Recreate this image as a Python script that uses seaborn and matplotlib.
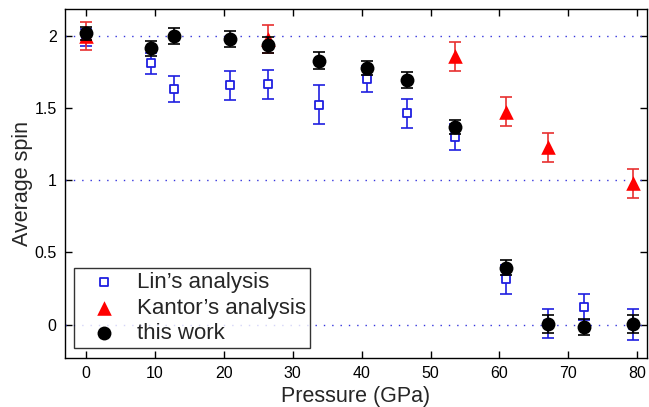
import matplotlib
matplotlib.use("Agg")
import matplotlib.pyplot as plt
import seaborn as sns
import pandas as pd
import numpy as np

# Lin's analysis
lin_p = [0.0, 9.4, 12.8, 20.9, 26.5, 33.8, 40.8, 46.6, 53.6, 60.9, 67.1, 72.3, 79.3]
lin_s = [1.99, 1.81, 1.63, 1.66, 1.665, 1.525, 1.705, 1.465, 1.30, 0.315, 0.005, 0.12, 0.0]
lin_e = [0.06, 0.07, 0.09, 0.10, 0.10, 0.135, 0.09, 0.10, 0.09, 0.10, 0.10, 0.09, 0.11]

# Kantor's analysis
kan_p = [0.0, 26.5, 53.6, 60.9, 67.1, 79.3]
kan_s = [2.0, 1.98, 1.86, 1.475, 1.23, 0.98]
kan_e = [0.10, 0.10, 0.10, 0.10, 0.10, 0.10]

# this work
tw_p = [0.0, 9.4, 12.8, 20.9, 26.5, 33.8, 40.8, 46.6, 53.6, 60.9, 67.1, 72.3, 79.3]
tw_s = [2.02, 1.915, 2.0, 1.977, 1.935, 1.83, 1.78, 1.695, 1.37, 0.395, 0.003, -0.016, 0.003]
tw_e = [0.045, 0.05, 0.055, 0.055, 0.055, 0.06, 0.05, 0.055, 0.05, 0.05, 0.06, 0.058, 0.06]

ref_levels = [0, 1, 2]
xticks = [0, 10, 20, 30, 40, 50, 60, 70, 80]
yticks = [0, 0.5, 1, 1.5, 2]

sns.set_theme(style="ticks")
plt.rcParams['font.family'] = ['Liberation Sans', 'DejaVu Sans']

fig = plt.figure(figsize=(6.49, 4.07), dpi=100)
ax = fig.add_axes([0.1002, 0.121, 0.8968, 0.856])

for lv in ref_levels:
    ax.axhline(lv, color='#3333dd', linestyle=(0, (1, 5)), linewidth=1.0, zorder=1)

blue = '#1f1fe0'
red = '#ff0000'

ax.errorbar(lin_p, lin_s, yerr=lin_e, fmt='none', ecolor=blue, elinewidth=1.2,
            capsize=4, capthick=1.2, zorder=2)
sns.scatterplot(x=lin_p, y=lin_s, ax=ax, marker='s', s=40, facecolor='white',
                edgecolor=blue, linewidth=1.3, zorder=3, label="Lin\u2019s analysis")

ax.errorbar(kan_p, kan_s, yerr=kan_e, fmt='none', ecolor='#e83030', elinewidth=1.2,
            capsize=4, capthick=1.2, zorder=4)
sns.scatterplot(x=kan_p, y=kan_s, ax=ax, marker='^', s=110, color=red,
                edgecolor=red, linewidth=0, zorder=5, label="Kantor\u2019s analysis")

ax.errorbar(tw_p, tw_s, yerr=tw_e, fmt='none', ecolor='black', elinewidth=1.2,
            capsize=4, capthick=1.2, zorder=6)
sns.scatterplot(x=tw_p, y=tw_s, ax=ax, marker='o', s=100, color='black',
                edgecolor='black', linewidth=0, zorder=7, label="this work")

ax.set_xlim(-3, 81.4)
ax.set_ylim(-0.23, 2.185)
ax.set_xticks(xticks)
ax.set_xticklabels([str(t) for t in xticks])
ax.set_yticks(yticks)
ax.set_yticklabels(['0', '0.5', '1', '1.5', '2'])
ax.tick_params(direction='in', top=True, right=True, labelsize=11.5, length=5,
               width=1, colors='black', pad=6)
ax.tick_params(axis='x', labeltop=False)
ax.tick_params(axis='y', labelright=False)
for sp in ax.spines.values():
    sp.set_color('black')
    sp.set_linewidth(1.0)

ax.set_xlabel('Pressure (GPa)', fontsize=15.5, labelpad=3.5)
ax.set_ylabel('Average spin', fontsize=15.5, labelpad=1)

leg = ax.legend(loc='lower left', bbox_to_anchor=(0.0155, 0.028), frameon=True,
                fancybox=False, edgecolor='black', fontsize=16, handletextpad=0.3,
                borderpad=0.18, labelspacing=0.2, handlelength=2.35, borderaxespad=0)
leg.get_frame().set_linewidth(1.0)
leg.set_zorder(10)

fig.savefig('out.png', dpi=100)
